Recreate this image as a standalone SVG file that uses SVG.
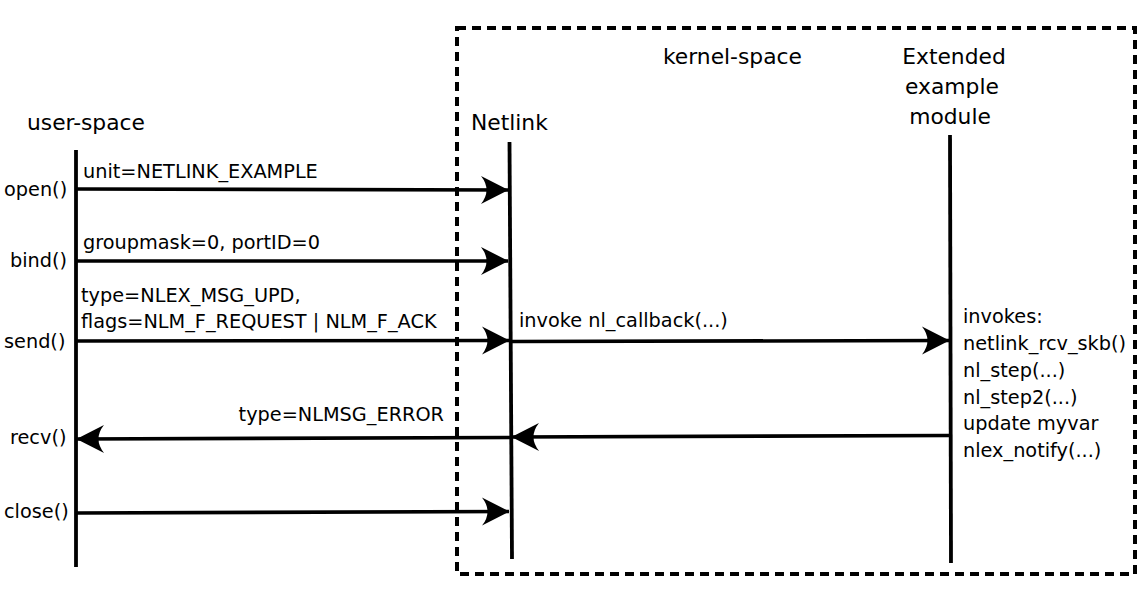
<svg xmlns="http://www.w3.org/2000/svg" width="1148" height="608" viewBox="0 0 1148 608">
<style>
text{font-family:"DejaVu Sans","Liberation Sans",sans-serif;fill:#000}
.t{font-size:21.8px}
.m{font-size:19.3px}
.life{stroke:#000;stroke-width:3.8;fill:none}
.msg{stroke:#000;stroke-width:3.6;fill:none}
</style>
<defs>
<marker id="ah" markerUnits="userSpaceOnUse" markerWidth="32" markerHeight="34" viewBox="-30 -17 32 34" refX="0" refY="0" orient="auto">
<path d="M0.5,0 L-27,-14 Q-16,0 -27,14 Z" fill="#000"/>
</marker>
</defs>
<rect id="kernel-box" x="457" y="28" width="678" height="546" fill="none" stroke="#000" stroke-width="4" stroke-dasharray="9,6"/>
<g id="user-space">
<text class="t" x="27" y="130">user-space</text>
<line class="life" x1="76" y1="150" x2="76" y2="567"/>
</g>
<g id="kernel-space">
<text class="t" x="663" y="64">kernel-space</text>
</g>
<g id="netlink">
<text class="t" x="471" y="130">Netlink</text>
<line class="life" x1="509.5" y1="142" x2="512" y2="559"/>
</g>
<g id="module">
<text class="t" x="954" y="64" text-anchor="middle">Extended</text>
<text class="t" x="952" y="94" text-anchor="middle">example</text>
<text class="t" x="950" y="124" text-anchor="middle">module</text>
<line class="life" x1="950" y1="135" x2="951" y2="563"/>
</g>
<g id="calls">
<text class="m" x="4" y="196">open()</text>
<text class="m" x="10" y="267">bind()</text>
<text class="m" x="4" y="348">send()</text>
<text class="m" x="10" y="444">recv()</text>
<text class="m" x="4" y="518">close()</text>
</g>
<g id="labels">
<text class="m" x="83" y="178">unit=NETLINK_EXAMPLE</text>
<text class="m" x="83" y="249">groupmask=0, portID=0</text>
<text class="m" x="81" y="302">type=NLEX_MSG_UPD,</text>
<text class="m" x="81" y="328">flags=NLM_F_REQUEST | NLM_F_ACK</text>
<text class="m" x="444" y="421" text-anchor="end">type=NLMSG_ERROR</text>
<text class="m" x="519" y="327">invoke nl_callback(...)</text>
<text class="m" x="963" y="323">invokes:</text>
<text class="m" x="963" y="350">netlink_rcv_skb()</text>
<text class="m" x="963" y="377">nl_step(...)</text>
<text class="m" x="963" y="404">nl_step2(...)</text>
<text class="m" x="963" y="430">update myvar</text>
<text class="m" x="963" y="457">nlex_notify(...)</text>
</g>
<g id="connectors">
<line class="msg" x1="76" y1="189" x2="508" y2="190" marker-end="url(#ah)"/>
<line class="msg" x1="76" y1="261" x2="508" y2="261" marker-end="url(#ah)"/>
<line class="msg" x1="76" y1="341" x2="509" y2="340.5" marker-end="url(#ah)"/>
<line class="msg" x1="512" y1="341.5" x2="949" y2="340.5" marker-end="url(#ah)"/>
<line class="msg" x1="949" y1="435.5" x2="512" y2="437" marker-end="url(#ah)"/>
<line class="msg" x1="511" y1="437.5" x2="77" y2="439" marker-end="url(#ah)"/>
<line class="msg" x1="76" y1="513" x2="509" y2="511.5" marker-end="url(#ah)"/>
</g>
</svg>
